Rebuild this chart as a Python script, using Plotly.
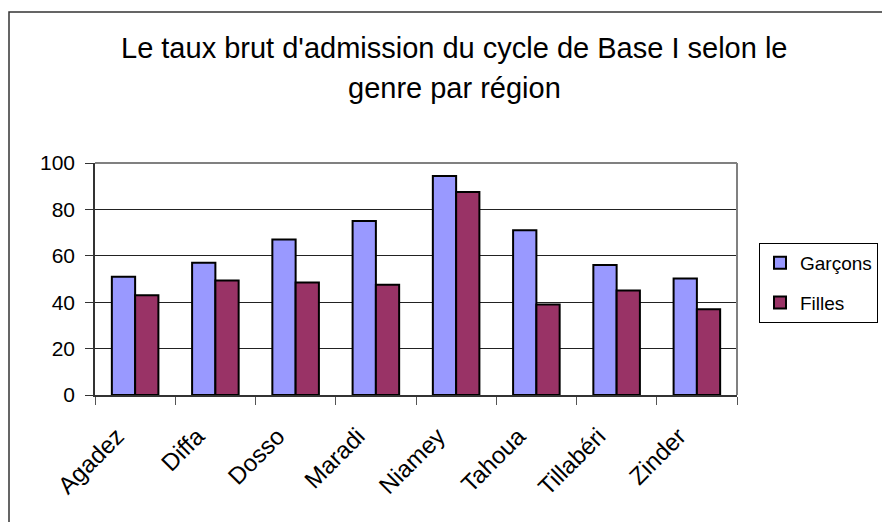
import plotly.graph_objects as go

regions = ["Agadez", "Diffa", "Dosso", "Maradi", "Niamey", "Tahoua", "Tillabéri", "Zinder"]
garcons = [51, 57, 67, 75, 94.4, 71, 56, 50.2]
filles = [43, 49.3, 48.5, 47.5, 87.5, 39, 45, 37]
title_line1 = "Le taux brut d'admission du cycle de Base I selon le"
title_line2 = "genre par région"
yticks = [0, 20, 40, 60, 80, 100]

# page body has an 8px margin, so the figure is drawn 8px smaller
OFF = 8
W, H = 890 - OFF, 522 - OFF
L, T = 95 - OFF, 163 - OFF
pw, ph = 642, 232
R, B = W - L - pw, H - T - ph

def px_x(x):  # reference-pixel x -> paper
    return (x - OFF - L) / pw

def px_y(y):  # reference-pixel y -> paper
    return (T + ph - (y - OFF)) / ph

FONT = "Liberation Sans, Arial, sans-serif"

fig = go.Figure()
fig.add_trace(go.Bar(x=regions, y=garcons, name="Garçons", legendgroup="g",
                     marker=dict(color="#9999FF", line=dict(color="black", width=2))))
fig.add_trace(go.Bar(x=regions, y=filles, name="Filles", legendgroup="f",
                     marker=dict(color="#993366", line=dict(color="black", width=2))))

fig.update_layout(
    width=W, height=H,
    margin=dict(l=L, r=R, t=T, b=B, autoexpand=False),
    paper_bgcolor="white", plot_bgcolor="white",
    font=dict(family=FONT, size=20, color="black"),
    barmode="group", bargap=0.42, bargroupgap=0,
    showlegend=True,
    legend=dict(x=px_x(759), y=px_y(243), xanchor="left", yanchor="top",
                bordercolor="black", borderwidth=1, bgcolor="white",
                font=dict(family=FONT, size=19, color="black"),
                tracegroupgap=12, itemwidth=30),
    xaxis=dict(showline=True, linecolor="#333333", linewidth=1.5,
               ticks="outside", tickson="boundaries", ticklen=8, tickcolor="#555555",
               tickangle=-45, tickfont=dict(family=FONT, size=24, color="black"),
               ticklabelstandoff=16, ticklabelshift=-18,
               showgrid=False),
    yaxis=dict(range=[0, 100], tickvals=yticks, showline=True, linecolor="#333333", linewidth=1.5,
               ticks="outside", ticklen=8, tickcolor="#333333",
               showgrid=True, gridcolor="#222222", gridwidth=1, zeroline=False,
               tickfont=dict(family=FONT, size=21, color="black"), ticklabelstandoff=6),
    shapes=[
        # outer chart border (left and top visible)
        dict(type="rect", xref="paper", yref="paper", x0=px_x(9), x1=px_x(940),
             y0=px_y(560), y1=px_y(12), line=dict(color="#333333", width=1.5), layer="below"),
        # plot area top and right borders
        dict(type="line", xref="paper", yref="paper", x0=0, x1=1, y0=1, y1=1,
             line=dict(color="#808080", width=2)),
        dict(type="line", xref="paper", yref="paper", x0=1, x1=1, y0=0, y1=1,
             line=dict(color="#808080", width=2)),
    ],
    annotations=[
        dict(text=title_line1, xref="paper", yref="paper", x=px_x(454), y=px_y(48),
             xanchor="center", yanchor="middle", showarrow=False,
             font=dict(family=FONT, size=29, color="black")),
        dict(text=title_line2, xref="paper", yref="paper", x=px_x(454), y=px_y(88),
             xanchor="center", yanchor="middle", showarrow=False,
             font=dict(family=FONT, size=29, color="black")),
    ],
)

fig.write_html("out.html")
